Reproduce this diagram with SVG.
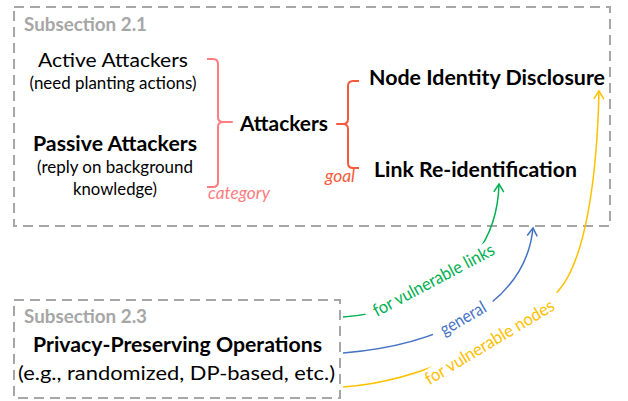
<svg xmlns="http://www.w3.org/2000/svg" width="628" height="401" viewBox="0 0 628 401">
<defs>
<style>
text{font-family:Lato,"Liberation Sans",sans-serif;fill:#000}
.box{fill:none;stroke:#a6a6a6;stroke-width:2;stroke-dasharray:10 6}
.sub{font-weight:bold;font-size:18.5px;fill:#a6a6a6}
.main{font-size:19.5px}
.bold{font-weight:bold;font-size:20px}
.note{font-size:16.5px}
.lbl{font-size:16.5px}
.clbl{font-size:17.5px}
.brace{fill:none;stroke-width:2;stroke-linejoin:round}
.conn{fill:none;stroke-width:1.5}
.bg{fill:#fff}
</style>
<marker id="ag" markerUnits="userSpaceOnUse" viewBox="-10 -6 12 12" markerWidth="12" markerHeight="12" refX="0" refY="0" orient="auto"><path d="M-8,-5 L0,0 L-8,5" fill="none" stroke="#00b050" stroke-width="1.5"/></marker>
<marker id="ab" markerUnits="userSpaceOnUse" viewBox="-10 -6 12 12" markerWidth="12" markerHeight="12" refX="0" refY="0" orient="auto"><path d="M-8,-5 L0,0 L-8,5" fill="none" stroke="#4472c4" stroke-width="1.5"/></marker>
<marker id="ay" markerUnits="userSpaceOnUse" viewBox="-10 -6 12 12" markerWidth="12" markerHeight="12" refX="0" refY="0" orient="auto"><path d="M-8,-5 L0,0 L-8,5" fill="none" stroke="#ffc000" stroke-width="1.5"/></marker>
</defs>
<rect width="628" height="401" fill="#fff"/>

<g id="subsection-2-1">
<rect class="box" x="14" y="7" width="596" height="219"/>
<text class="sub" x="24" y="31" textLength="123" lengthAdjust="spacingAndGlyphs">Subsection 2.1</text>
</g>

<g id="active-attackers">
<text class="main" x="113" y="67" text-anchor="middle" textLength="150" lengthAdjust="spacingAndGlyphs">Active Attackers</text>
<text class="note" x="113" y="89" text-anchor="middle" textLength="167" lengthAdjust="spacingAndGlyphs">(need planting actions)</text>
</g>

<g id="passive-attackers">
<text class="bold" x="115" y="151" text-anchor="middle" textLength="164" lengthAdjust="spacingAndGlyphs">Passive Attackers</text>
<text class="note" x="115" y="173" text-anchor="middle" textLength="156" lengthAdjust="spacingAndGlyphs">(reply on background</text>
<text class="note" x="115" y="195" text-anchor="middle" textLength="84" lengthAdjust="spacingAndGlyphs">knowledge)</text>
</g>

<g id="category-brace">
<path class="brace" stroke="#ff7c80" d="M207,59 L213,59 Q218,59 218,64 L218,117 Q218,122 223,122 L232,122 L223,122 Q218,122 218,127 L218,182 Q218,187 213,187 L207,187"/>
<text class="lbl" x="208" y="199" font-style="italic" style="fill:#ff7c80" textLength="62" lengthAdjust="spacingAndGlyphs">category</text>
</g>

<g id="attackers">
<text class="bold" x="240" y="131" textLength="88" lengthAdjust="spacingAndGlyphs">Attackers</text>
</g>

<g id="goal-brace">
<path class="brace" stroke="#f55a3c" d="M359,81 L353,81 Q348,81 348,86 L348,119 Q348,124 343,124 L337,124 L343,124 Q348,124 348,129 L348,163 Q348,168 353,168 L359,168"/>
<text class="lbl" x="325" y="182" font-style="italic" style="fill:#f55a3c" textLength="30" lengthAdjust="spacingAndGlyphs">goal</text>
</g>

<g id="node-identity-disclosure">
<text class="bold" x="369" y="85" textLength="236" lengthAdjust="spacingAndGlyphs">Node Identity Disclosure</text>
</g>

<g id="link-reidentification">
<text class="bold" x="374" y="177" textLength="203" lengthAdjust="spacingAndGlyphs">Link Re-identification</text>
</g>

<g id="subsection-2-3">
<rect class="box" x="14" y="300" width="326" height="98"/>
<text class="sub" x="24" y="323" textLength="123" lengthAdjust="spacingAndGlyphs">Subsection 2.3</text>
<text class="bold" x="177.5" y="352" text-anchor="middle" textLength="289" lengthAdjust="spacingAndGlyphs">Privacy-Preserving Operations</text>
<text class="main" x="176.5" y="380" text-anchor="middle" textLength="317" lengthAdjust="spacingAndGlyphs">(e.g., randomized, DP-based, etc.)</text>
</g>

<g id="connectors">
<path class="conn" stroke="#00b050" marker-end="url(#ag)" d="M343,317 C430,310 497,265 499,184"/>
<path class="conn" stroke="#4472c4" marker-end="url(#ab)" d="M343,353 C430,346 525,310 533,228"/>
<path class="conn" stroke="#ffc000" marker-end="url(#ay)" d="M343,387 C420,382 520,335 559,290 C585,260 597,180 599,91"/>
<g transform="translate(434,281) rotate(-28)">
<rect class="bg" x="-76" y="-10" width="152" height="20"/>
<text class="clbl" x="0" y="5" text-anchor="middle" style="fill:#00b050" textLength="135" lengthAdjust="spacingAndGlyphs">for vulnerable links</text>
</g>
<g transform="translate(464,320) rotate(-30)">
<rect class="bg" x="-34" y="-10" width="68" height="20"/>
<text class="clbl" x="0" y="4" text-anchor="middle" style="fill:#4472c4" textLength="50" lengthAdjust="spacingAndGlyphs">general</text>
</g>
<g transform="translate(490,343) rotate(-31)">
<rect class="bg" x="-83" y="-10" width="166" height="20"/>
<text class="clbl" x="0" y="5" text-anchor="middle" style="fill:#ffc000" textLength="148" lengthAdjust="spacingAndGlyphs">for vulnerable nodes</text>
</g>
</g>
</svg>
